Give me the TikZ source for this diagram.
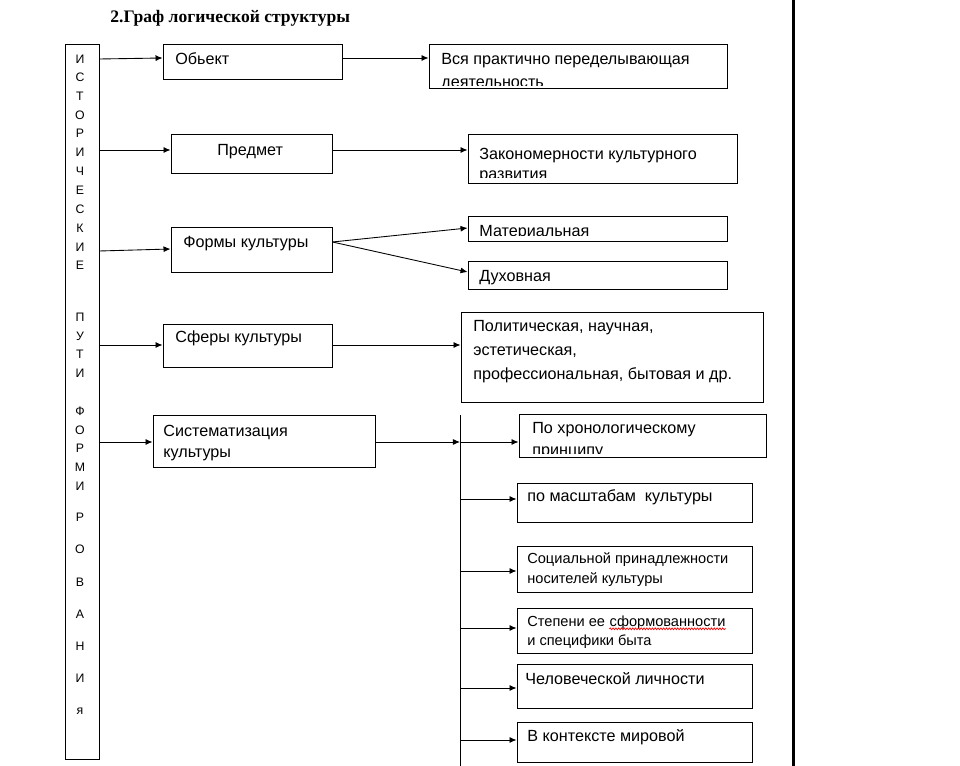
\documentclass[tikz,border=0pt]{standalone}
\usepackage{fontspec}
\setmainfont{Liberation Sans}
\newfontfamily\tsans{Liberation Sans}
\newfontfamily\tserif{Liberation Serif}
\usetikzlibrary{arrows.meta,fit,decorations.pathmorphing}
\tikzset{
  bx/.style={draw, line width=0.5pt, inner sep=0pt},
  tx/.style={anchor=base west, inner sep=0pt, font=\tsans\fontsize{9.2}{11}\selectfont},
  sm/.style={anchor=base west, inner sep=0pt, font=\tsans\fontsize{8.3}{10}\selectfont},
  vl/.style={anchor=center, inner sep=0pt, font=\tsans\fontsize{7}{8}\selectfont},
  arr/.style={-{Latex[length=4pt,width=3.4pt]}, line width=0.5pt},
  thin/.style={line width=0.5pt},
  wavy/.style={draw=red, line width=0.4pt, decorate, decoration={snake, segment length=1.6pt, amplitude=0.5pt}}
}
\begin{document}
\begin{tikzpicture}[x=0.02cm, y=-0.02cm]
\useasboundingbox[fill=white] (0,0) rectangle (960,766);

\node[anchor=base west, inner sep=0pt, font=\tserif\bfseries\fontsize{10}{12}\selectfont] (title) at (110,23) {2.Граф логической структуры};

% left vertical box
\node[bx, fit={(65,44) (99,759)}] (vb) {};
\foreach \l/\y [count=\i] in {И/59, С/77, Т/96, О/115, Р/133, И/152, Ч/171, Е/190, С/209, К/228, И/247, Е/265,
  П/317, У/336, Т/354, И/373,
  Ф/411, О/430, Р/448, М/467, И/486, Р/517, О/549, В/582, А/614, Н/646, И/678, я/711}
  \node[vl] (L\i) at (80,\y) {\l};

% first column boxes
\node[bx, fit={(163,44) (342,79)}] (obj) {};
\node[bx, fit={(171,134) (332,173)}] (pred) {};
\node[bx, fit={(171,227) (332,272)}] (forms) {};
\node[bx, fit={(163,324) (332,367)}] (sfer) {};
\node[bx, fit={(153,415) (375,467)}] (sist) {};

\node[tx] (tobj) at (175,65) {Обьект};
\node[tx] (tpred) at (217,156) {Предмет};
\node[tx] (tforms) at (183,248) {Формы культуры};
\node[tx] (tsfer) at (175,343) {Сферы культуры};
\node[tx] (tsist1) at (163,437) {Систематизация};
\node[tx] (tsist2) at (163,458) {культуры};

% second column boxes
\node[bx, fit={(429,44) (727,88)}] (vsya) {};
\node[bx, fit={(468,134) (737,183)}] (zak) {};
\node[bx, fit={(468,216) (727,241)}] (mat) {};
\node[bx, fit={(468,261) (727,289)}] (duh) {};
\node[bx, fit={(461,312) (763,402)}] (pol) {};
\node[bx, fit={(519,414) (766,457)}] (hron) {};
\node[bx, fit={(517,483) (752,522)}] (masht) {};
\node[bx, fit={(517,546) (752,592)}] (soc) {};
\node[bx, fit={(517,608) (752,653)}] (step) {};
\node[bx, fit={(517,664) (752,708)}] (chel) {};
\node[bx, fit={(517,722) (752,762)}] (kont) {};

\node[tx] (tvsya1) at (441,65) {Вся практично переделывающая};
\begin{scope}
  \clip (429,44) rectangle (727,86);
  \node[tx] (tvsya2) at (441,88) {деятельность};
\end{scope}
\node[tx] (tzak1) at (479,160) {Закономерности культурного};
\begin{scope}
  \clip (468,134) rectangle (737,178);
  \node[tx] (tzak2) at (479,180) {развития};
\end{scope}
\begin{scope}
  \clip (468,216) rectangle (727,235.5);
  \node[tx] (tmat) at (479,237) {Материальная};
\end{scope}
\node[tx] (tduh) at (479,282) {Духовная};
\node[tx] (tpol1) at (473,332) {Политическая, научная,};
\node[tx] (tpol2) at (473,356) {эстетическая,};
\node[tx] (tpol3) at (473,380) {профессиональная, бытовая и др.};
\node[tx] (thron1) at (532,434) {По хронологическому};
\begin{scope}
  \clip (519,414) rectangle (766,454);
  \node[tx] (thron2) at (532,456) {принципу};
\end{scope}
\node[tx] (tmasht) at (527,501) {по масштабам\ \ культуры};
\node[sm] (tsoc1) at (527,563) {Социальной принадлежности};
\node[sm] (tsoc2) at (527,583) {носителей культуры};
\node[sm] (tstep1) at (527,626) {Степени ее\ \mbox{}};
\node[sm, anchor=base west] (tstep1b) at (tstep1.base east) {сформованности};
\draw[wavy] ([yshift=-1.6pt]tstep1b.base west) -- ([yshift=-1.6pt]tstep1b.base east);
\node[sm] (tstep2) at (527,645) {и специфики быта};
\node[tx] (tchel) at (525,684) {Человеческой личности};
\node[tx] (tkont) at (527,741) {В контексте мировой};

% vertical distributor line and right margin rule
\coordinate (vtop) at (460,415);
\coordinate (vbot) at (460,766);
\draw[thin] (vtop) -- (vbot);
\coordinate (rtop) at (793.5,0);
\coordinate (rbot) at (793.5,766);
\draw[line width=1.9pt] (rtop) -- (rbot);

% connectors
\draw[arr] (vb.east |- 0,59) -- (obj.west |- 0,58);
\draw[arr] (vb.east |- 0,150) -- (pred.west |- 0,150);
\draw[arr] (vb.east |- 0,251) -- (forms.west |- 0,249);
\draw[arr] (vb.east |- 0,345) -- (sfer.west |- 0,345);
\draw[arr] (vb.east |- 0,442) -- (sist.west |- 0,442);

\draw[arr] (obj.east |- 0,58) -- (vsya.west |- 0,58);
\draw[arr] (pred.east |- 0,150) -- (zak.west |- 0,150);
\draw[arr] (forms.east |- 0,242) -- (mat.west |- 0,228);
\draw[arr] (forms.east |- 0,242) -- (duh.west |- 0,272);
\draw[arr] (sfer.east |- 0,345) -- (pol.west |- 0,345);
\draw[arr] (sist.east |- 0,442) -- (vtop |- 0,442);
\draw[arr] (vtop |- 0,442) -- (hron.west |- 0,442);
\draw[arr] (vtop |- 0,499) -- (masht.west |- 0,499);
\draw[arr] (vtop |- 0,571) -- (soc.west |- 0,571);
\draw[arr] (vtop |- 0,628) -- (step.west |- 0,628);
\draw[arr] (vtop |- 0,688) -- (chel.west |- 0,688);
\draw[arr] (vtop |- 0,740) -- (kont.west |- 0,740);
\end{tikzpicture}
\end{document}
